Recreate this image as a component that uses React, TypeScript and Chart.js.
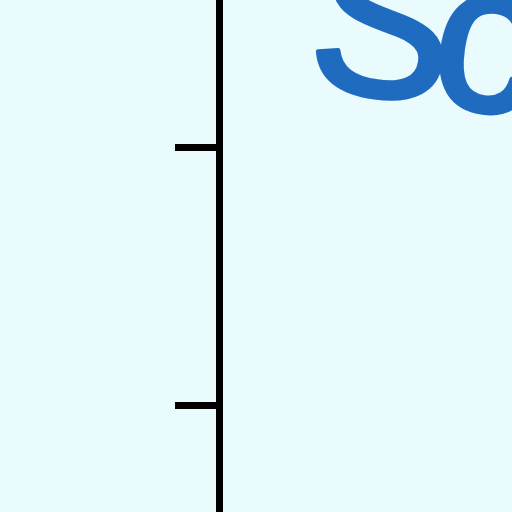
import React, { useEffect, useRef } from "react";
import { Chart, registerables } from "chart.js";

Chart.register(...registerables);

const categories: string[] = [];
const seriesValues: number[] = [];
const yTickValues = [10, 20];
const yMin = 5.907;
const yMax = 25.676;
const titleText = "Scatter";

const bgPlugin = {
  id: "bgFill",
  beforeDraw(chart: any) {
    const { ctx, width, height } = chart;
    ctx.save();
    ctx.fillStyle = "#e9fbfd";
    ctx.fillRect(0, 0, width, height);
    ctx.restore();
  },
};

const titlePlugin = {
  id: "bigTitle",
  afterDraw(chart: any) {
    const { ctx } = chart;
    ctx.save();
    ctx.fillStyle = "#1f6bbf";
    ctx.strokeStyle = "#1f6bbf";
    ctx.lineWidth = 5;
    ctx.lineJoin = "round";
    ctx.font = "212px 'Liberation Sans', Arial, sans-serif";
    (ctx as any).letterSpacing = "-18px";
    ctx.textBaseline = "alphabetic";
    ctx.textAlign = "left";
    ctx.translate(304, 85);
    ctx.rotate((8 * Math.PI) / 180);
    ctx.fillText(titleText, 0, 0);
    ctx.strokeText(titleText, 0, 0);
    ctx.restore();
  },
};

export default function App() {
  const ref = useRef<HTMLCanvasElement | null>(null);
  useEffect(() => {
    if (!ref.current) return;
    const chart = new Chart(ref.current, {
      type: "line",
      data: {
        labels: categories,
        datasets: [
          {
            label: titleText,
            data: seriesValues,
            borderColor: "#1f6bbf",
          },
        ],
      },
      options: {
        animation: false,
        responsive: false,
        devicePixelRatio: 1,
        layout: { padding: 0 },
        plugins: {
          legend: { display: false },
          title: { display: false },
          tooltip: { enabled: false },
        },
        scales: {
          x: { display: false },
          y: {
            min: yMin,
            max: yMax,
            afterFit: (s: any) => {
              s.width = 219;
            },
            afterBuildTicks: (s: any) => {
              s.ticks = yTickValues.map((v) => ({ value: v }));
            },
            ticks: { display: false },
            grid: {
              drawOnChartArea: false,
              drawTicks: true,
              tickLength: 44,
              lineWidth: 7,
              color: "#000000",
            },
            border: { display: true, width: 7, color: "#000000" },
          },
        },
      },
      plugins: [bgPlugin, titlePlugin],
    });
    return () => chart.destroy();
  }, []);
  return (
    <canvas
      ref={ref}
      width={512}
      height={512}
      style={{ position: "fixed", top: 0, left: 0, width: 512, height: 512 }}
    />
  );
}
